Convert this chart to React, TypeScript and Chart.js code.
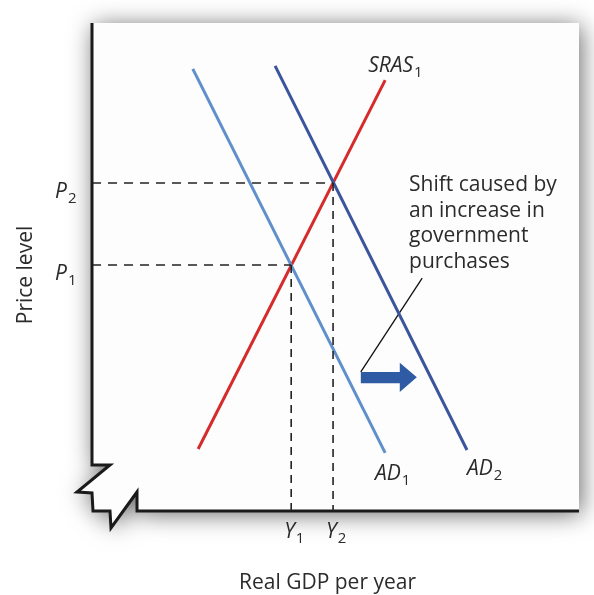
import React, { useEffect, useRef } from "react";
import { Chart, registerables } from "chart.js";

Chart.register(...registerables);

// ---- data (model units: 0..100 on both axes) ----
const srasPoints = [
  { x: 21.8, y: 12.7 },
  { x: 60.2, y: 88.3 },
];
const ad1Points = [
  { x: 20.7, y: 90.6 },
  { x: 60.2, y: 11.9 },
];
const ad2Points = [
  { x: 37.6, y: 91.2 },
  { x: 77.0, y: 12.5 },
];
const priceLevels = [50.4, 67.2]; // P1, P2
const outputLevels = [40.9, 49.5]; // Y1, Y2
const priceLabels = ["1", "2"];
const outputLabels = ["1", "2"];
const leaderLine = [
  { x: 67.8, y: 47.7 },
  { x: 55.2, y: 28.5 },
];
const arrowShape = [
  { x: 55.2, y: 28.5 },
  { x: 63.2, y: 28.5 },
  { x: 63.2, y: 30.4 },
  { x: 66.7, y: 27.4 },
  { x: 63.2, y: 24.4 },
  { x: 63.2, y: 26.2 },
  { x: 55.2, y: 26.2 },
];
const annotationLines = ["Shift caused by", "an increase in", "government", "purchases"];
const annotationAnchor = { x: 65.1, y: 65.6 };
const srasLabel = { x: 56.7, y: 90.0, main: "SRAS", sub: "1" };
const adLabels = [
  { x: 58.1, y: 6.4, main: "AD", sub: "1" },
  { x: 77.0, y: 7.4, main: "AD", sub: "2" },
];
const xAxisTitle = "Real GDP per year";
const yAxisTitle = "Price level";

const FONT = "'Open Sans', 'Noto Sans', sans-serif";
const TEXT = "#2b2b2b";

function drawSub(ctx: CanvasRenderingContext2D, main: string, sub: string, x: number, y: number) {
  ctx.font = `italic 21px ${FONT}`;
  ctx.textAlign = "left";
  ctx.textBaseline = "alphabetic";
  ctx.fillStyle = TEXT;
  ctx.fillText(main, x, y);
  const w = ctx.measureText(main).width;
  ctx.font = `15px ${FONT}`;
  ctx.fillText(sub, x + w + 1, y + 5);
}

const economyPlugin = {
  id: "economy",
  beforeDatasetsDraw(chart: any) {
    const ctx: CanvasRenderingContext2D = chart.ctx;
    const xs = chart.scales.x;
    const ys = chart.scales.y;
    const L = xs.getPixelForValue(0);
    const R = xs.getPixelForValue(100);
    const T = ys.getPixelForValue(100);
    const B = ys.getPixelForValue(0);
    const breakPath = [
      [L, B - 46],
      [L + 18, B - 46],
      [L - 15, B - 19],
      [L, B - 18],
      [L + 1, B],
      [L + 18, B],
      [L + 19, B + 17],
      [L + 45, B - 19],
      [L + 45, B],
    ];
    ctx.save();
    ctx.beginPath();
    ctx.moveTo(L, T);
    ctx.lineTo(R, T);
    ctx.lineTo(R, B);
    for (let i = breakPath.length - 1; i >= 0; i--) ctx.lineTo(breakPath[i][0], breakPath[i][1]);
    ctx.closePath();
    ctx.shadowColor = "rgba(0,0,0,0.6)";
    ctx.shadowBlur = 24;
    ctx.shadowOffsetX = 2;
    ctx.shadowOffsetY = 3;
    ctx.fillStyle = "#fdfdfd";
    ctx.fill();
    ctx.restore();
    ctx.save();
    ctx.beginPath();
    ctx.moveTo(L, T);
    for (const p of breakPath) ctx.lineTo(p[0], p[1]);
    ctx.lineTo(R, B);
    ctx.lineWidth = 3;
    ctx.lineJoin = "miter";
    ctx.strokeStyle = "#1a1a1a";
    ctx.stroke();
    ctx.restore();
  },
  afterDatasetsDraw(chart: any) {
    const ctx: CanvasRenderingContext2D = chart.ctx;
    const xs = chart.scales.x;
    const ys = chart.scales.y;
    ctx.save();
    ctx.beginPath();
    arrowShape.forEach((p, i) => {
      const px = xs.getPixelForValue(p.x);
      const py = ys.getPixelForValue(p.y);
      if (i === 0) ctx.moveTo(px, py);
      else ctx.lineTo(px, py);
    });
    ctx.closePath();
    ctx.fillStyle = "#2f5ba5";
    ctx.fill();
    ctx.restore();
  },
  afterDraw(chart: any) {
    const ctx: CanvasRenderingContext2D = chart.ctx;
    const xs = chart.scales.x;
    const ys = chart.scales.y;
    const L = xs.getPixelForValue(0);
    const B = ys.getPixelForValue(0);
    ctx.save();
    priceLevels.forEach((p, i) => {
      drawSub(ctx, "P", priceLabels[i], L - 37, ys.getPixelForValue(p) + 15);
    });
    outputLevels.forEach((q, i) => {
      drawSub(ctx, "Y", outputLabels[i], xs.getPixelForValue(q) - 7, B + 27);
    });
    drawSub(ctx, srasLabel.main, srasLabel.sub, xs.getPixelForValue(srasLabel.x), ys.getPixelForValue(srasLabel.y));
    adLabels.forEach((a) => drawSub(ctx, a.main, a.sub, xs.getPixelForValue(a.x), ys.getPixelForValue(a.y)));
    ctx.font = `21px ${FONT}`;
    ctx.fillStyle = TEXT;
    ctx.textAlign = "left";
    ctx.textBaseline = "alphabetic";
    const ax = xs.getPixelForValue(annotationAnchor.x);
    const ay = ys.getPixelForValue(annotationAnchor.y);
    annotationLines.forEach((t, i) => ctx.fillText(t, ax, ay + i * 25.7));
    ctx.font = `21px ${FONT}`;
    ctx.textAlign = "center";
    ctx.fillText(xAxisTitle, (xs.getPixelForValue(0) + xs.getPixelForValue(100)) / 2 - 8, B + 78);
    ctx.translate(32, (ys.getPixelForValue(0) + ys.getPixelForValue(100)) / 2 + 8);
    ctx.rotate(-Math.PI / 2);
    ctx.fillText(yAxisTitle, 0, 0);
    ctx.restore();
  },
};

export default function App() {
  const ref = useRef<HTMLCanvasElement>(null);
  useEffect(() => {
    if (!ref.current) return;
    const guide = {
      borderColor: "#222",
      borderWidth: 1.6,
      pointRadius: 0,
      showLine: true,
      fill: false,
    };
    const datasets: any[] = [
      ...priceLevels.map((p, i) => ({
        ...guide,
        borderDash: [9, 7],
        data: [
          { x: 0, y: p },
          { x: outputLevels[i], y: p },
        ],
      })),
      ...outputLevels.map((q, i) => ({
        ...guide,
        borderDash: [8, 6],
        data: [
          { x: q, y: priceLevels[i] },
          { x: q, y: 0 },
        ],
      })),
      { data: ad1Points, borderColor: "#5f90cb", borderWidth: 3, pointRadius: 0, showLine: true },
      { data: ad2Points, borderColor: "#3b559c", borderWidth: 3, pointRadius: 0, showLine: true },
      { data: srasPoints, borderColor: "#d52b2b", borderWidth: 3, pointRadius: 0, showLine: true },
      { data: leaderLine, borderColor: "#111", borderWidth: 1.3, pointRadius: 0, showLine: true },
    ];
    const chart = new Chart(ref.current, {
      type: "scatter",
      data: { datasets },
      options: {
        animation: false,
        responsive: false,
        devicePixelRatio: 1,
        layout: { padding: { left: 92, top: 23, right: 15, bottom: 84 } },
        plugins: { legend: { display: false }, tooltip: { enabled: false } },
        events: [],
        scales: {
          x: { type: "linear", min: 0, max: 100, display: false },
          y: { type: "linear", min: 0, max: 100, display: false },
        },
      },
      plugins: [economyPlugin],
    });
    return () => chart.destroy();
  }, []);
  return (
    <div style={{ position: "fixed", left: 0, top: 0, width: 594, height: 595, background: "#ffffff" }}>
      <canvas ref={ref} width={594} height={595} />
    </div>
  );
}
